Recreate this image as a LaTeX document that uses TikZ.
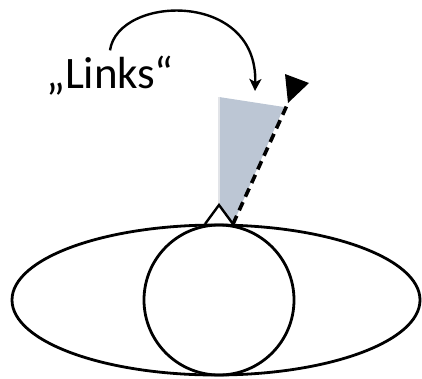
\documentclass[tikz,border=0pt]{standalone}
\usepackage{fontspec}
\setmainfont{Carlito}
\usepackage{tikz}
\usetikzlibrary{arrows.meta, positioning, calc}
\definecolor{WEDGE_GRAY}{HTML}{BCC6D4}
\definecolor{EDGE_GRAY}{HTML}{E2E4E8}
\tikzset{
  outline/.style={draw=black, line width=2.8pt},
  wedge/.style={fill=WEDGE_GRAY, draw=none},
  turn/.style={-{Stealth[length=12pt,width=12pt,inset=3pt]}, line width=2.4pt},
  edgeline/.style={line width=3.6pt, dash pattern=on 9pt off 6pt},
  label/.style={font=\fontsize{45}{52}\selectfont, inner sep=0pt},
}
\begin{document}
\begin{tikzpicture}[x=1pt, y=-1pt]
  \useasboundingbox (0,0) rectangle (422,378);

  % body and wheel
  \draw[outline] (216,300) ellipse [x radius=204, y radius=75];
  \draw[outline] (219,300) circle [radius=75];

  \coordinate (apex) at (219,205);
  \coordinate (baseL) at (205,224);
  \coordinate (baseR) at (233,224);
  \coordinate (topL) at (219,97);
  \coordinate (topR) at (288,103);
  \coordinate (aim) at (255,91);

  % shaded sector
  \fill[wedge] (topL) -- (284,107) -- (baseR) -- (apex) -- cycle;
  \draw[EDGE_GRAY, line width=2.5pt] (topL) -- (apex);
  \draw[line width=2.4pt, line join=miter] (baseL) -- (apex) -- (baseR);

  % dashed edge with flag
  \draw[edgeline] (baseR) -- (topR);
  \fill (topR) -- (285,74) -- (309,83) -- cycle;

  \node[label, anchor=base west] (links) at (46,88) {„Links“};

  \draw[turn] ([yshift=5pt]links.north) .. controls (118,-5) and (258,-10) .. (aim);
\end{tikzpicture}
\end{document}
